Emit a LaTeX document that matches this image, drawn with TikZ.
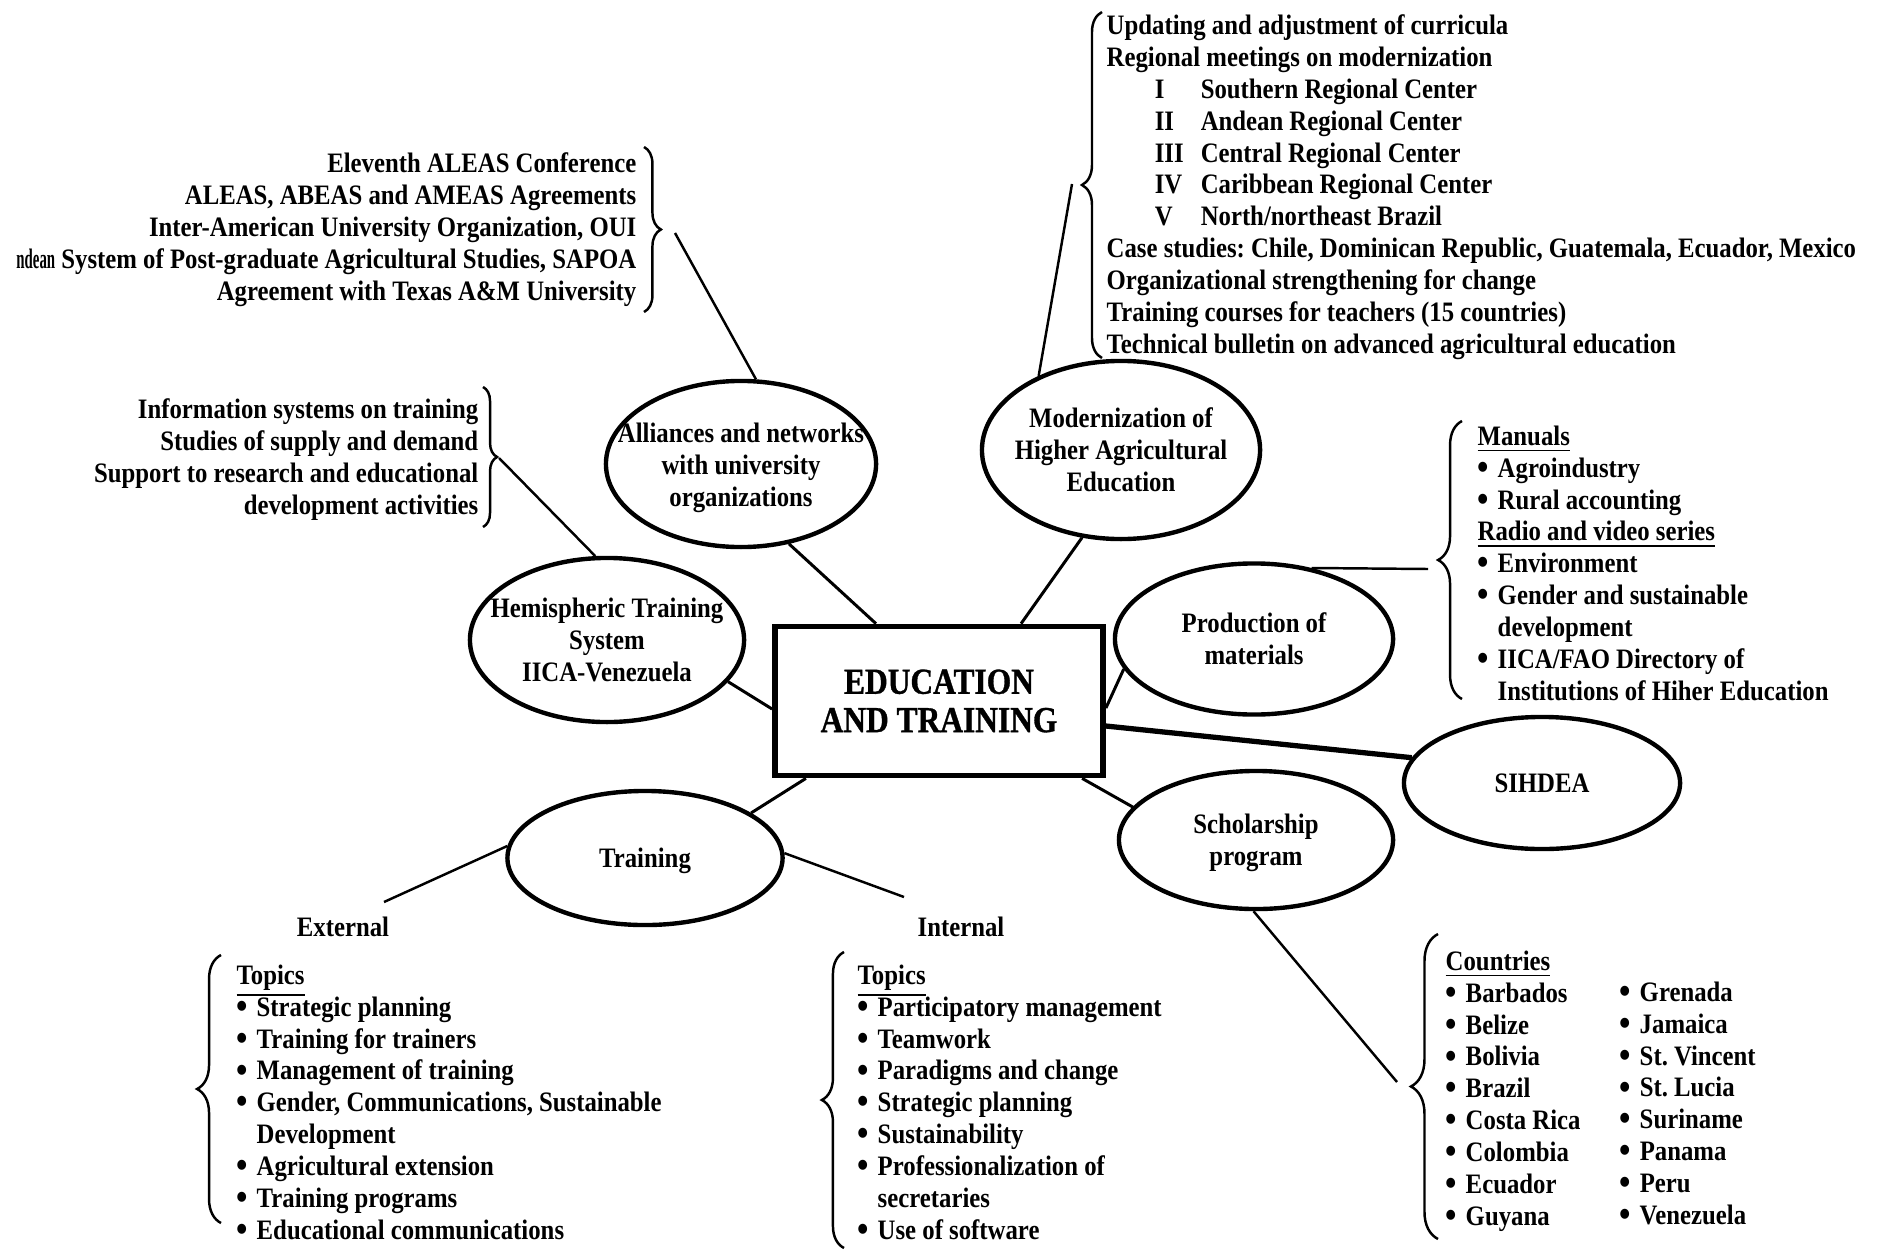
\documentclass[tikz,border=0pt]{standalone}
\usepackage{fontspec}
\usepackage{graphicx}
\setmainfont{Liberation Serif}[FakeStretch=0.88]
\newfontfamily\hubfont{Liberation Serif Bold}[FakeStretch=0.86,FakeBold=0.9]
\usetikzlibrary{shapes.geometric,decorations.pathreplacing}

\newcommand{\lsfont}{\fontsize{8}{9.07}\selectfont\bfseries\frenchspacing}
\newcommand{\itm}{\makebox[2mm][l]{\raisebox{-0.6pt}{\fontsize{10.5}{10.5}\selectfont\textbullet}}}
\newcommand{\cnt}{\hspace*{2mm}}
\newcommand{\rom}[1]{\hspace*{4.8mm}\makebox[4.6mm][l]{#1}}
\newcommand{\hd}[1]{\raisebox{0pt}[\height][0pt]{\underline{#1}}}

\begin{document}
\begin{tikzpicture}[x=0.01cm,y=-0.01cm,
  lst/.style={font=\lsfont,inner sep=0pt},
  bubble/.style={ellipse,draw,line width=1.25pt,inner sep=0pt},
  btxt/.style={font=\lsfont,align=center,inner sep=0pt},
  link/.style={line width=0.85pt},
  lead/.style={line width=0.7pt},
  curly/.style={decorate,decoration={brace,amplitude=#1},line width=0.7pt},
  curly/.default=5pt]
  \useasboundingbox (0,0) rectangle (1895,1252);
  \fill[white] (0,0) rectangle (1895,1252);

  \node[draw,line width=1.6pt,minimum width=3.28cm,minimum height=1.49cm,
    align=center,inner sep=0pt,font=\fontsize{10.4}{10.9}\hubfont]
    (edu) at (939,701) {EDUCATION\\AND TRAINING};

  \node[bubble,minimum width=2.70cm,minimum height=1.66cm] (alli) at (741,464) {};
  \node[btxt] (allit) at (741,468) {Alliances and networks\\with university\\organizations};
  \node[bubble,minimum width=2.78cm,minimum height=1.78cm] (mod) at (1121,450) {};
  \node[btxt] (modt) at (mod) {Modernization of\\Higher Agricultural\\Education};
  \node[bubble,minimum width=2.74cm,minimum height=1.64cm] (hemi) at (607,640) {};
  \node[btxt] (hemit) at (hemi) {Hemispheric Training\\System\\IICA-Venezuela};
  \node[bubble,minimum width=2.78cm,minimum height=1.51cm] (prod) at (1254,639) {};
  \node[btxt] (prodt) at (prod) {Production of\\materials};
  \node[bubble,minimum width=2.76cm,minimum height=1.32cm] (sihdea) at (1542,783) {};
  \node[btxt] (sihdeat) at (sihdea) {SIHDEA};
  \node[bubble,minimum width=2.74cm,minimum height=1.38cm] (schol) at (1256,840) {};
  \node[btxt] (scholt) at (1256,843) {Scholarship\\program};
  \node[bubble,minimum width=2.75cm,minimum height=1.34cm] (train) at (645,858) {};
  \node[btxt] (traint) at (645,861) {Training};

  \draw[link] ([xshift=-0.63cm]edu.north) -- (alli.-59);
  \draw[link] ([xshift=0.82cm]edu.north) -- (mod.246);
  \draw[link] ([yshift=-0.08cm]edu.west) -- (hemi.-19);
  \draw[link] ([yshift=-0.07cm]edu.east) -- (prod.193);
  \draw[line width=1.5pt] ([yshift=-0.25cm]edu.east) -- (sihdea.169);
  \draw[link] ([xshift=-1.33cm]edu.south) -- (train.23);
  \draw[link] ([xshift=1.43cm]edu.south) -- (schol.165);

  \node[lst,align=right,anchor=north east] (allil) at (637,152)
    {Eleventh ALEAS Conference\\
     ALEAS, ABEAS and AMEAS Agreements\\
     Inter-American University Organization, OUI\\
     \scalebox{0.6}[1]{ndean} System of Post-graduate Agricultural Studies, SAPOA\\
     Agreement with Texas A\&M University};
  \draw[curly=4.8pt] (644,147) -- (644,312);
  \coordinate (alliTip) at (675,233);
  \draw[lead] (alliTip) -- (alli.80);

  \node[lst,align=right,anchor=north east] (hemil) at (479,398)
    {Information systems on training\\
     Studies of supply and demand\\
     Support to research and educational\\
     development activities};
  \draw[curly=4pt] (483,387) -- (483,527);
  \coordinate (hemiTip) at (499,458);
  \draw[lead] (hemiTip) -- (hemi.98);

  \node[lst,align=left,anchor=north west] (modl) at (1106,14)
    {Updating and adjustment of curricula\\
     Regional meetings on modernization\\
     \rom{I}Southern Regional Center\\
     \rom{II}Andean Regional Center\\
     \rom{III}Central Regional Center\\
     \rom{IV}Caribbean Regional Center\\
     \rom{V}North/northeast Brazil\\
     Case studies: Chile, Dominican Republic, Guatemala, Ecuador, Mexico\\
     Organizational strengthening for change\\
     Training courses for teachers (15 countries)\\
     Technical bulletin on advanced agricultural education};
  \draw[curly=5.7pt] (1102,358) -- (1102,12);
  \coordinate (modTip) at (1072,184);
  \draw[lead] (modTip) -- (mod.138);

  \node[lst,align=left,anchor=north west] (prodl) at (1477,425)
    {\hd{Manuals}\\
     \itm Agroindustry\\
     \itm Rural accounting\\
     \hd{Radio and video series}\\
     \itm Environment\\
     \itm Gender and sustainable\\
     \cnt development\\
     \itm IICA/FAO Directory of\\
     \cnt Institutions of Hiher Education};
  \draw[curly=6.8pt] (1462,699) -- (1462,421);
  \coordinate (prodTip) at (1428,569);
  \draw[lead] (prod.51) -- (prodTip);

  \node[lst,align=left,anchor=north west] (cntA) at (1445,950)
    {\hd{Countries}\\
     \itm Barbados\\
     \itm Belize\\
     \itm Bolivia\\
     \itm Brazil\\
     \itm Costa Rica\\
     \itm Colombia\\
     \itm Ecuador\\
     \itm Guyana};
  \node[lst,align=left,anchor=north west] (cntB) at (1619,981)
    {\itm Grenada\\
     \itm Jamaica\\
     \itm St. Vincent\\
     \itm St. Lucia\\
     \itm Suriname\\
     \itm Panama\\
     \itm Peru\\
     \itm Venezuela};
  \draw[curly=7.7pt] (1438,1239) -- (1438,934);
  \coordinate (scholTip) at (1397,1082);
  \draw[lead] (schol.-92) -- (scholTip);

  \coordinate (extEnd) at (384,902);
  \coordinate (intEnd) at (904,897);
  \draw[lead] (train.175) -- (extEnd);
  \draw[lead] (train.2) -- (intEnd);
  \node[lst] (extl) at (343,927) {External};
  \node[lst] (intl) at (961,927) {Internal};

  \node[lst,align=left,anchor=north west] (extlist) at (236,964)
    {\hd{Topics}\\
     \itm Strategic planning\\
     \itm Training for trainers\\
     \itm Management of training\\
     \itm Gender, Communications, Sustainable\\
     \cnt Development\\
     \itm Agricultural extension\\
     \itm Training programs\\
     \itm Educational communications};
  \draw[curly=6.8pt] (221,1223) -- (221,955);

  \node[lst,align=left,anchor=north west] (intlist) at (857,964)
    {\hd{Topics}\\
     \itm Participatory management\\
     \itm Teamwork\\
     \itm Paradigms and change\\
     \itm Strategic planning\\
     \itm Sustainability\\
     \itm Professionalization of\\
     \cnt secretaries\\
     \itm Use of software};
  \draw[curly=6.3pt] (844,1248) -- (844,952);
\end{tikzpicture}
\end{document}
